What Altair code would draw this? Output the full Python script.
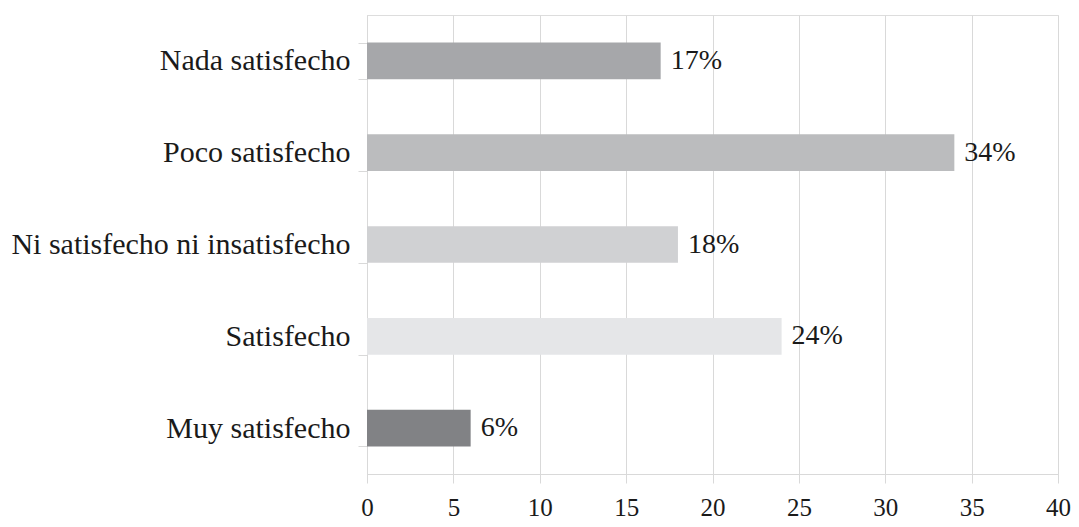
import altair as alt
import pandas as pd

categories = ["Nada satisfecho", "Poco satisfecho", "Ni satisfecho ni insatisfecho", "Satisfecho", "Muy satisfecho"]
values = [17, 34, 18, 24, 6]
colors = ["#a6a7aa", "#bbbcbe", "#d0d1d3", "#e5e6e8", "#818285"]

df = pd.DataFrame({
    "cat": categories,
    "val": values,
    "label": [f"{v}%" for v in values],
})

FONT = "Liberation Serif"

y_enc = alt.Y(
    "cat:N", sort=categories, title=None,
    scale=alt.Scale(paddingInner=0.6, paddingOuter=0.3),
    axis=alt.Axis(
        tickBand="extent", tickSize=9, tickColor="#d9d9d9", domainColor="#d9d9d9",
        labelFont=FONT, labelFontSize=30, labelColor="#1a1a1a", labelPadding=8,
        grid=False, labelLimit=500,
    ),
)
x_enc = alt.X(
    "val:Q", title=None,
    scale=alt.Scale(domain=[0, 40], nice=False),
    axis=alt.Axis(
        values=[0, 5, 10, 15, 20, 25, 30, 35, 40], tickSize=9, tickColor="#d9d9d9",
        domainColor="#d9d9d9", gridColor="#d9d9d9", grid=True,
        labelFont=FONT, labelFontSize=25, labelColor="#1a1a1a", labelPadding=12,
        labelFlush=False,
    ),
)

bars = alt.Chart(df).mark_bar().encode(
    y=y_enc,
    x=x_enc,
    color=alt.Color("cat:N", scale=alt.Scale(domain=categories, range=colors), legend=None),
)

text = alt.Chart(df).mark_text(
    align="left", baseline="middle", dx=10, font=FONT, fontSize=28, color="#1a1a1a"
).encode(
    y=alt.Y("cat:N", sort=categories),
    x="val:Q",
    text="label:N",
)

chart = alt.layer(bars, text).properties(
    width=691, height=459,
    autosize=alt.AutoSizeParams(type="none"),
    padding={"left": 367, "top": 15, "right": 21, "bottom": 53},
).configure_view(stroke=None).configure(background="white")

chart.save("out.html", embed_options={"renderer": "svg", "actions": False})
